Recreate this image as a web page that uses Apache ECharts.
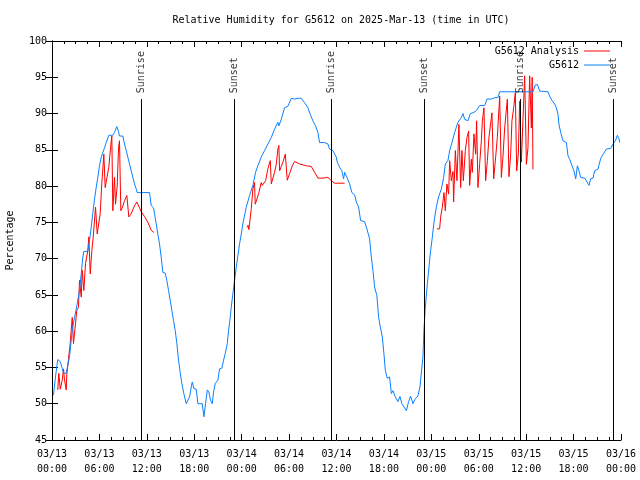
<!DOCTYPE html>
<html>
<head>
<meta charset="utf-8">
<script src="https://cdn.jsdelivr.net/npm/echarts@6/dist/echarts.min.js"></script>
<style>
html,body{margin:0;padding:0;background:#fff;}
#chart{width:640px;height:480px;}
</style>
</head>
<body>
<div id="chart"></div>
<script>
// Hours since 2025-03-13 00:00 UTC
const titleText = 'Relative Humidity for G5612 on 2025-Mar-13 (time in UTC)';
const yTicks = [45, 50, 55, 60, 65, 70, 75, 80, 85, 90, 95, 100];

const obsHours = [0.19,0.44,0.73,1.04,1.29,1.46,1.80,2.00,2.22,2.34,2.56,2.85,3.06,3.27,3.48,3.70,3.90,4.03,4.53,4.75,4.96,5.16,5.38,5.59,5.80,6.01,6.23,6.43,6.65,6.86,7.19,7.70,7.91,8.20,8.42,8.54,8.96,9.18,9.39,9.59,9.81,10.03,10.23,10.44,10.66,10.78,12.34,12.56,12.85,12.97,13.19,13.39,13.61,13.82,14.03,14.33,14.53,14.75,14.96,15.16,15.38,15.59,15.80,16.01,16.23,16.43,16.68,16.99,17.19,17.41,17.62,17.75,17.95,18.25,18.46,19.01,19.22,19.43,19.65,19.85,20.06,20.28,20.44,20.66,20.99,21.20,21.49,21.71,21.92,22.18,22.34,22.51,22.68,22.89,23.10,23.32,23.52,23.73,23.95,24.15,24.58,25.00,25.42,25.76,26.05,26.48,26.90,27.32,27.75,28.16,28.58,28.71,29.01,29.43,29.85,30.28,30.70,31.11,31.54,31.96,32.38,32.68,33.01,33.35,33.65,33.86,34.49,34.91,35.13,35.54,35.97,36.10,36.39,36.68,36.90,37.03,37.32,37.66,37.95,38.29,38.51,38.80,39.05,39.56,39.85,40.19,40.41,40.61,40.82,41.11,41.33,41.54,41.80,42.00,42.18,42.43,42.72,42.94,43.14,43.44,43.77,44.03,44.28,44.53,44.84,45.13,45.38,45.67,45.97,46.30,46.56,46.73,46.94,47.06,47.24,47.49,47.70,47.91,48.13,48.33,48.63,48.92,49.27,49.56,49.77,50.10,50.32,50.61,50.95,51.37,51.80,52.00,52.22,52.63,52.94,53.27,53.70,54.11,54.75,55.04,55.59,56.01,56.43,56.65,60.86,61.16,61.42,61.71,62.76,62.97,63.27,63.61,63.82,64.03,64.15,64.37,64.66,65.09,65.29,65.51,65.80,66.05,66.27,66.48,66.68,66.90,67.41,67.66,67.95,68.16,68.46,68.67,69.09,69.30,69.52,70.15,70.70,70.99,71.29,71.54,71.75,71.84];
const obsValues = [51.2,53.7,56.1,55.8,54.9,54.2,54.2,55.3,56.5,57.8,60.1,61.9,63.0,63.0,65.6,67.9,70.2,71.0,71.0,72.5,74.3,76.2,78.2,79.8,81.2,82.8,84.0,84.6,85.3,86.0,87.0,87.0,87.4,88.2,87.5,86.9,86.9,85.8,84.9,84.0,83.05,82.1,81.2,80.3,79.6,79.1,79.1,77.3,77.0,76.2,74.8,73.4,72.0,70.2,68.1,68.0,67.0,65.6,64.25,62.9,61.5,60.1,58.3,56.0,54.2,52.8,51.4,50.0,50.0,50.95,52.3,53.0,52.1,52.0,50.0,50.0,48.2,50.0,51.9,51.6,50.5,50.0,51.6,52.8,53.25,54.8,54.9,56.0,56.9,58.3,60.1,61.5,63.3,65.2,67.0,68.8,70.4,72.0,73.4,74.8,77.1,78.7,80.1,81.9,82.8,84.0,84.9,85.8,86.7,87.85,88.8,88.3,89.2,90.8,91.0,92.1,92.0,92.1,92.1,91.5,90.8,89.9,89.0,88.3,87.4,86.0,86.0,85.8,85.1,84.9,84.0,83.3,82.6,82.1,81.0,81.9,81.2,80.3,79.1,78.8,77.8,77.1,75.25,75.1,74.1,72.7,70.2,68.4,66.1,64.9,61.9,60.6,59.2,56.9,54.6,53.5,53.7,51.4,51.8,50.95,50.3,51.0,50.0,49.8,49.05,50.3,51.05,50.0,50.7,51.05,52.3,54.2,56.45,60.1,63.3,66.5,68.8,71.1,73.0,75.0,77.1,78.5,79.6,81.2,83.05,83.5,84.9,86.0,87.4,88.8,89.45,90.0,89.2,89.0,90.0,90.1,90.4,91.1,91.1,92.0,92.0,92.2,92.2,93.0,93.0,93.95,94.0,93.1,93.0,92.4,91.8,91.3,90.8,89.9,88.5,87.4,86.25,86.0,84.2,83.7,82.8,82.1,81.0,82.8,82.1,81.2,81.1,81.2,80.1,81.0,81.1,82.1,82.35,83.3,84.0,85.1,85.2,85.8,86.25,87.0,86.5,86.0];

const anaDay1Hours = [0.73,0.86,1.04,1.29,1.46,1.58,1.80,1.87,2.09,2.30,2.56,2.72,2.97,3.14,3.35,3.48,3.70,3.82,4.03,4.24,4.53,4.66,4.84,5.04,5.25,5.51,5.72,5.92,6.10,6.30,6.56,6.73,6.94,7.19,7.41,7.57,7.70,7.91,8.04,8.25,8.42,8.54,8.71,8.89,9.18,9.47,9.59,9.72,10.03,10.44,10.73,11.08,11.33,11.71,12.13,12.56,12.89];
const anaDay1Values = [51.9,54.2,52.0,53.2,54.8,53.3,51.9,54.0,56.2,58.3,61.9,58.3,61.0,62.9,63.3,67.0,64.7,68.4,65.6,69.3,71.1,73.0,67.9,71.1,73.4,77.1,73.4,73.4,76.2,80.3,84.4,79.8,79.8,82.6,85.3,86.9,76.6,81.2,77.5,80.0,85.3,86.25,76.6,77.0,78.0,78.7,78.8,75.75,76.2,77.3,77.8,77.0,76.4,75.8,75.0,73.9,73.6];
const anaDay2Hours = [24.66,24.81,24.91,25.22,25.42,25.63,25.72,25.92,26.18,26.48,26.61,26.77,27.03,27.32,27.62,27.75,27.95,28.16,28.38,28.58,28.71,28.80,29.01,29.22,29.52,29.77,30.06,30.41,30.70,31.33,32.18,32.81,33.23,33.65,34.28,34.91,35.34,35.76,37.03];
const anaDay2Values = [74.3,74.6,74.0,76.9,79.6,80.5,77.5,77.5,79.1,80.5,80.1,80.3,80.75,82.4,83.5,80.3,80.3,81.9,83.0,85.1,85.6,82.1,82.1,83.3,84.4,80.8,81.7,82.8,83.4,83.05,82.8,82.7,81.9,81.1,81.1,81.2,80.75,80.4,80.4];
const anaDay3Hours = [48.71,49.05,49.18,49.39,49.60,49.77,49.97,50.19,50.32,50.53,50.74,50.82,51.04,51.24,51.49,51.71,51.87,52.05,52.30,52.51,52.72,52.85,53.06,53.19,53.39,53.61,53.73,53.90,54.11,54.33,54.46,54.66,54.87,55.09,55.29,55.67,55.89,56.14,56.35,56.65,56.86,57.06,57.28,57.62,57.82,58.04,58.20,58.42,58.63,58.80,59.01,59.18,59.39,59.59,59.81,60.03,60.23,60.44,60.66,60.76,60.86];
const anaDay3Values = [74.1,74.1,75.75,77.1,79.1,76.6,80.3,78.9,83.5,80.75,82.0,77.8,84.9,80.75,88.5,79.8,84.9,80.75,84.9,86.7,87.6,80.1,83.7,81.9,87.2,84.4,89.0,79.8,83.0,86.25,89.0,90.8,80.75,83.5,86.7,90.1,81.0,84.0,86.7,92.4,81.2,84.0,88.0,92.0,81.3,84.4,89.0,90.8,92.9,82.1,84.4,91.7,83.3,89.0,95.2,83.0,85.3,95.2,88.0,95.0,82.3];

const eventHours = [11.30, 23.07, 35.30, 47.11, 59.26, 71.02];
const eventNames = ['Sunrise', 'Sunset', 'Sunrise', 'Sunset', 'Sunrise', 'Sunset'];

const FONT = 'DejaVu Sans Mono';

function pairs(h, v) { return h.map((x, i) => [x, v[i]]); }
const anaData = [].concat(
  pairs(anaDay1Hours, anaDay1Values), [[18, null]],
  pairs(anaDay2Hours, anaDay2Values), [[42, null]],
  pairs(anaDay3Hours, anaDay3Values)
);
const obsData = pairs(obsHours, obsValues);

function xLabel(v) {
  const day = 13 + Math.floor(v / 24 + 1e-9);
  const hr = Math.round(v - (day - 13) * 24);
  return '03/' + String(day).padStart(2, '0') + '\n' + String(hr).padStart(2, '0') + ':00';
}

const chart = echarts.init(document.getElementById('chart'), null, {renderer: 'canvas'});
const axisCommon = {
  axisLine: {show: true, lineStyle: {color: '#000', width: 1}},
  splitLine: {show: false}
};
chart.setOption({
  animation: false,
  backgroundColor: '#fff',
  textStyle: {fontFamily: FONT, fontSize: 10, color: '#000'},
  title: {
    text: titleText, left: 336, top: 10, textAlign: 'center',
    textStyle: {fontFamily: FONT, fontSize: 10, fontWeight: 'normal', color: '#000'}
  },
  legend: {
    orient: 'vertical', right: 30, top: 46, align: 'right', padding: 0,
    icon: 'rect', itemWidth: 26, itemHeight: 1, itemGap: 4,
    textStyle: {fontFamily: FONT, fontSize: 10, color: '#000'},
    data: ['G5612 Analysis', 'G5612']
  },
  grid: {left: 52, right: 19, top: 41, bottom: 40, containLabel: false, outerBoundsMode: 'none'},
  xAxis: [
    Object.assign({}, axisCommon, {
      type: 'value', min: 0, max: 72, interval: 6, position: 'bottom',
      axisTick: {show: true, inside: true, length: 6, lineStyle: {color: '#000'}},
      minorTick: {show: true, splitNumber: 4, length: 3, lineStyle: {color: '#000'}},
      axisLabel: {formatter: xLabel, margin: 7, lineHeight: 15, fontFamily: FONT, fontSize: 10, color: '#000'}
    }),
    Object.assign({}, axisCommon, {
      type: 'value', min: 0, max: 72, interval: 6, position: 'top',
      axisTick: {show: true, inside: true, length: 6, lineStyle: {color: '#000'}},
      minorTick: {show: true, splitNumber: 4, length: 3, lineStyle: {color: '#000'}},
      axisLabel: {show: false}
    })
  ],
  yAxis: [
    Object.assign({}, axisCommon, {
      type: 'value', min: yTicks[0], max: yTicks[yTicks.length - 1], interval: 5, position: 'left',
      name: 'Percentage', nameLocation: 'middle', nameGap: 37, nameRotate: 90,
      nameTextStyle: {fontFamily: FONT, fontSize: 10, color: '#000'},
      axisTick: {show: true, inside: true, length: 6, lineStyle: {color: '#000'}},
      axisLabel: {margin: 5, fontFamily: FONT, fontSize: 10, color: '#000'}
    }),
    Object.assign({}, axisCommon, {
      type: 'value', min: yTicks[0], max: yTicks[yTicks.length - 1], interval: 5, position: 'right',
      axisTick: {show: true, inside: true, length: 6, lineStyle: {color: '#000'}},
      axisLabel: {show: false}
    })
  ],
  series: [
    {
      name: 'G5612 Analysis', type: 'line', data: anaData, showSymbol: false, symbol: 'none',
      connectNulls: false, lineStyle: {color: '#ff0000', width: 1}, itemStyle: {color: '#ff0000'},
      z: 2
    },
    {
      name: 'G5612', type: 'line', data: obsData, showSymbol: false, symbol: 'none',
      lineStyle: {color: '#0a80ff', width: 1}, itemStyle: {color: '#0a80ff'},
      z: 3
    },
    {
      name: 'events', type: 'scatter', symbolSize: 1, symbol: 'rect',
      itemStyle: {color: 'rgba(0,0,0,0)'},
      data: eventHours.map((h, i) => ({value: [h, 92.8], name: eventNames[i]})),
      label: {
        show: true, formatter: p => p.name, rotate: 90, position: [0.5, 0.5],
        align: 'left', verticalAlign: 'middle',
        fontFamily: FONT, fontSize: 10, color: '#000'
      },
      markLine: {
        silent: true, symbol: ['none', 'none'],
        label: {show: false},
        lineStyle: {color: '#000', width: 1, type: 'solid'},
        data: eventHours.map(h => [{coord: [h, 45]}, {coord: [h, 92]}])
      },
      z: 4
    }
  ]
});
</script>
</body>
</html>
